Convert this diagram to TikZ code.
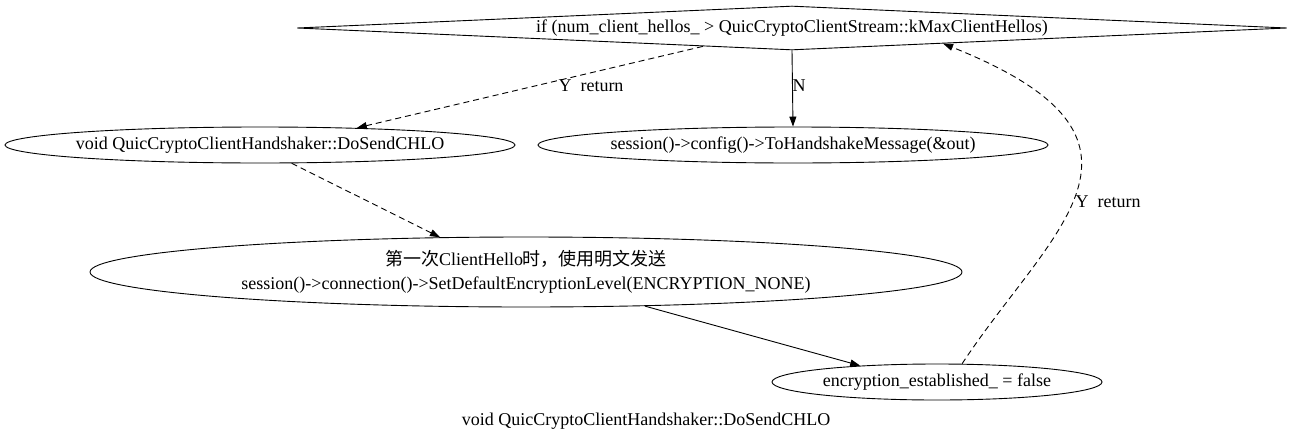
\documentclass[tikz,border=0pt]{standalone}
\usepackage{fontspec}
\setmainfont{Liberation Serif}
\newfontfamily\cjk{Noto Sans CJK SC}
\usetikzlibrary{shapes.geometric,arrows.meta,calc}
\tikzset{
  base/.style={draw=black, line width=0.9pt, inner sep=0pt, font=\fontsize{18pt}{24pt}\selectfont, align=center},
  oval/.style={base, ellipse, inner xsep=-40pt},
  cond/.style={base, diamond, aspect=22.5},
  edge/.style={line width=0.9pt, -{Triangle[length=10pt,width=7pt]}},
  dashededge/.style={edge, dash pattern=on 6pt off 4pt},
  lbl/.style={font=\fontsize{18pt}{22pt}\selectfont, inner sep=0pt}
}
\begin{document}
\begin{tikzpicture}[x=1pt,y=-1pt]
\useasboundingbox (0,0) rectangle (1293,442);
\node[cond, minimum width=990pt, minimum height=44pt] (d) at (792,28) {if (num\_client\_hellos\_ > QuicCryptoClientStream::kMaxClientHellos)};
\node[oval, minimum width=510pt, minimum height=36pt] (e1) at (260,145) {void QuicCryptoClientHandshaker::DoSendCHLO};
\node[oval, minimum width=510pt, minimum height=36pt] (e2) at (793,145) {session()->config()->ToHandshakeMessage(\&out)};
\node[oval, minimum width=872pt, minimum height=70pt] (e3) at (526,272) {{\cjk 第一次}ClientHello{\cjk 时，使用明文发送}\\session()->connection()->SetDefaultEncryptionLevel(ENCRYPTION\_NONE)};
\node[oval, minimum width=330pt, minimum height=36pt] (e4) at (937,382) {encryption\_established\_ = false};
\node[lbl] (cap) at (646,421) {void QuicCryptoClientHandshaker::DoSendCHLO};

\coordinate (s1) at ($(d.south)!0.18!(d.west)$);
\draw[dashededge] (s1) -- (e1.10);
\node[lbl] (l1) at (591,86) {Y\ \ return};
\draw[edge] (d.south) -- (e2.north);
\node[lbl] (l2) at (799,86) {N};
\draw[dashededge] (e1.-30) -- (e3.158);
\draw[edge] (e3.-16) -- (e4.168);
\coordinate (t4) at ($(d.south)!0.305!(d.east)$);
\draw[dashededge] (e4.36) .. controls (1050,230) and (1185,140) .. (t4);
\node[lbl] (l3) at (1108,202) {Y\ \ return};
\end{tikzpicture}
\end{document}
